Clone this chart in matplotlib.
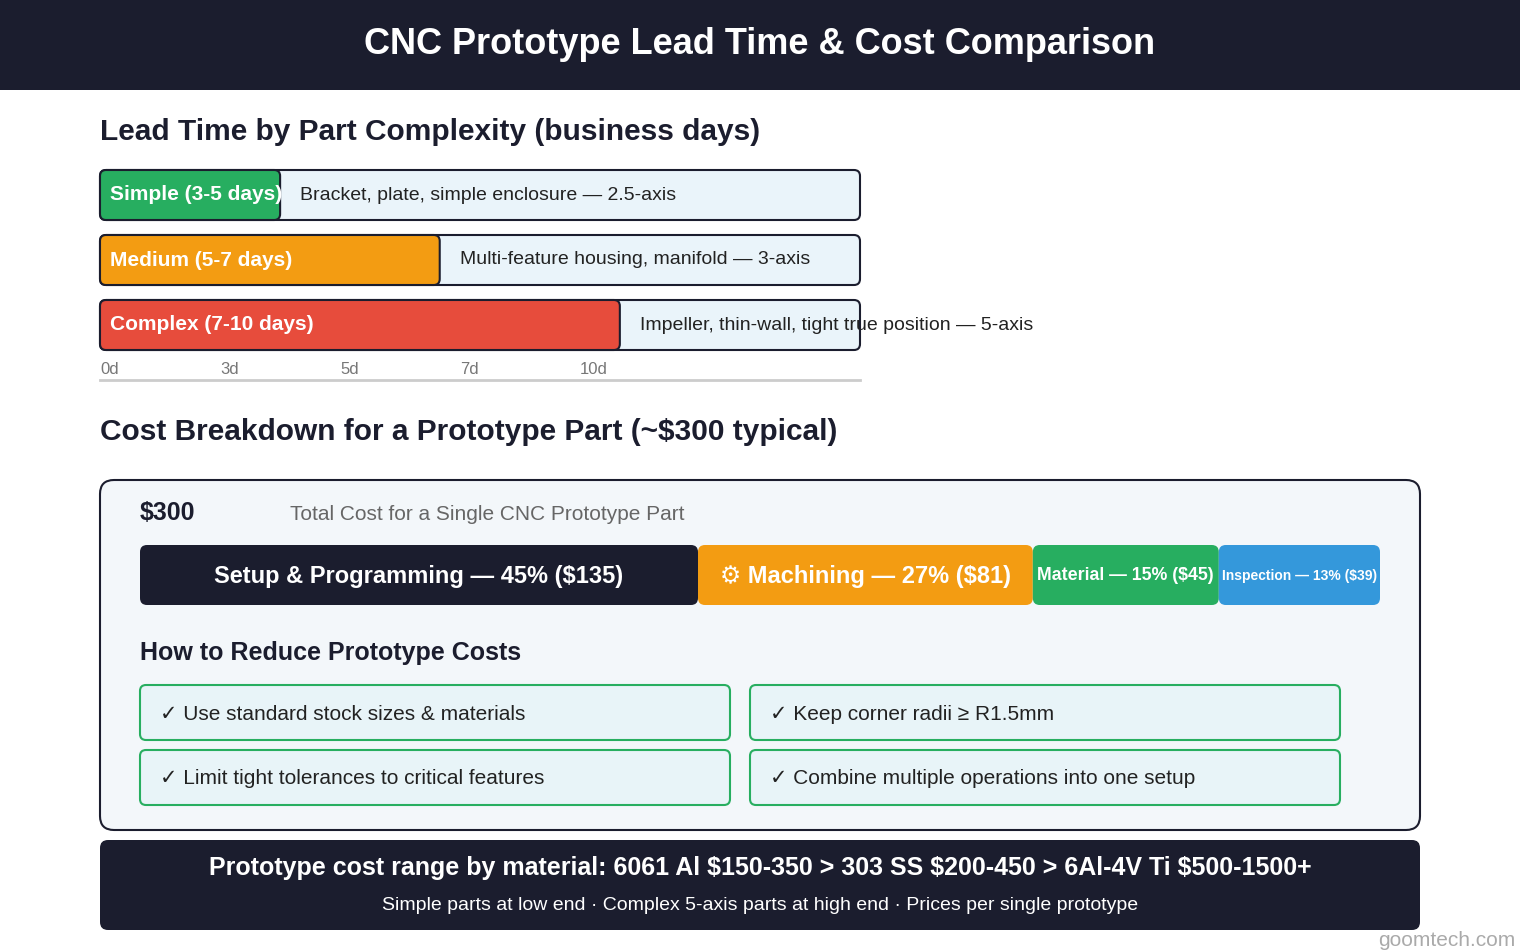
import matplotlib
matplotlib.use("Agg")
import matplotlib.pyplot as plt
from matplotlib.patches import FancyBboxPatch, Rectangle

plt.rcParams['font.family'] = ['Liberation Sans', 'DejaVu Sans']

# ---- data ----
lead_labels = ["Simple (3-5 days)", "Medium (5-7 days)", "Complex (7-10 days)"]
lead_desc = ["Bracket, plate, simple enclosure — 2.5-axis",
             "Multi-feature housing, manifold — 3-axis",
             "Impeller, thin-wall, tight true position — 5-axis"]
lead_fill_pct = [23.7, 44.7, 68.4]
lead_colors = ["#27ae60", "#f39c12", "#e74c3c"]
tick_labels = ["0d", "3d", "5d", "7d", "10d"]

cost_names = ["Setup & Programming", "Machining", "Material", "Inspection"]
cost_pct = [45, 27, 15, 13]
cost_usd = [135, 81, 45, 39]
cost_icons = ["", "⚙ ", "", ""]
cost_colors = ["#1b1d2e", "#f39c12", "#27ae60", "#3498db"]

tips = ["Use standard stock sizes & materials", "Keep corner radii ≥ R1.5mm",
        "Limit tight tolerances to critical features", "Combine multiple operations into one setup"]

NAVY = "#1b1d2e"
fig = plt.figure(figsize=(15.2, 9.5), dpi=100)
ax = fig.add_axes([0, 0, 1, 1])
ax.set_xlim(0, 1520); ax.set_ylim(950, 0); ax.axis('off')

def rbox(x, y, w, h, fc, ec="none", lw=0, r=6, z=1):
    ax.add_patch(FancyBboxPatch((x, y), w, h, boxstyle=f"round,pad=0,rounding_size={r}",
                                fc=fc, ec=ec, lw=lw, zorder=z))

# header
ax.add_patch(Rectangle((0, 0), 1520, 90, fc=NAVY, zorder=1))
ax.text(760, 45, "CNC Prototype Lead Time & Cost Comparison", color="white",
        fontsize=26, fontweight="bold", ha="center", va="center")

ax.text(100, 132, "Lead Time by Part Complexity (business days)", fontsize=21.5,
        fontweight="bold", color=NAVY, ha="left", va="center")

tx, tw = 100, 760
for i, (lab, desc, pct, col) in enumerate(zip(lead_labels, lead_desc, lead_fill_pct, lead_colors)):
    y = 170 + i * 65
    rbox(tx, y, tw, 50, "#eaf4fa", NAVY, 1.5, 6, 1)
    fw = tw * pct / 100
    rbox(tx, y, fw, 50, col, NAVY, 1.5, 6, 2)
    ax.text(tx + 10, y + 25, lab, color="white", fontsize=15, fontweight="bold",
            ha="left", va="center", zorder=3)
    ax.text(tx + fw + 20, y + 25, desc, color="#222", fontsize=14, ha="left",
            va="center", zorder=4)
for j, t in enumerate(tick_labels):
    ax.text(100 + j * 120, 370, t, fontsize=12, color="#777", ha="left", va="center")
ax.plot([100, 860], [380, 380], color="#cccccc", lw=2)

ax.text(100, 432, "Cost Breakdown for a Prototype Part (~$300 typical)", fontsize=21.5,
        fontweight="bold", color=NAVY, ha="left", va="center")

rbox(100, 480, 1320, 350, "#f3f7fa", NAVY, 1.5, 14, 1)
ax.text(140, 513, "$" + str(sum(cost_usd)), fontsize=18, fontweight="bold", color=NAVY,
        ha="left", va="center")
ax.text(290, 514, "Total Cost for a Single CNC Prototype Part", fontsize=15,
        color="#666", ha="left", va="center")

bx, bw = 140, 1240
x = bx
for name, p, usd, icon, col in zip(cost_names, cost_pct, cost_usd, cost_icons, cost_colors):
    w = bw * p / 100
    rbox(x, 545, w, 60, col, "none", 0, 7, 2)
    s = f"{icon}{name} — {p}% (${usd})"
    fs = min(17, (w - 12) / (len(s) * 0.68))
    ax.text(x + w / 2, 576, s, color="white", fontsize=fs, fontweight="bold",
            ha="center", va="center", zorder=3)
    x += w

ax.text(140, 653, "How to Reduce Prototype Costs", fontsize=18, fontweight="bold",
        color=NAVY, ha="left", va="center")
for i, t in enumerate(tips):
    cx = 140 + (i % 2) * 610
    cy = 685 + (i // 2) * 65
    rbox(cx, cy, 590, 55, "#e8f4f8", "#27ae60", 1.5, 6, 2)
    ax.text(cx + 20, cy + 29, "✓ " + t, fontsize=15, color="#222", ha="left",
            va="center", zorder=3)

rbox(100, 840, 1320, 90, NAVY, "none", 0, 8, 1)
ax.text(760, 868, "Prototype cost range by material: 6061 Al $150-350 > 303 SS $200-450 > 6Al-4V Ti $500-1500+",
        color="white", fontsize=18, fontweight="bold", ha="center", va="center")
ax.text(760, 905, "Simple parts at low end · Complex 5-axis parts at high end · Prices per single prototype",
        color="white", fontsize=14, ha="center", va="center")
ax.text(1515, 941, "goomtech.com", color="#aaa", fontsize=15, ha="right", va="center")

fig.savefig("out.png", dpi=100, facecolor="white")
